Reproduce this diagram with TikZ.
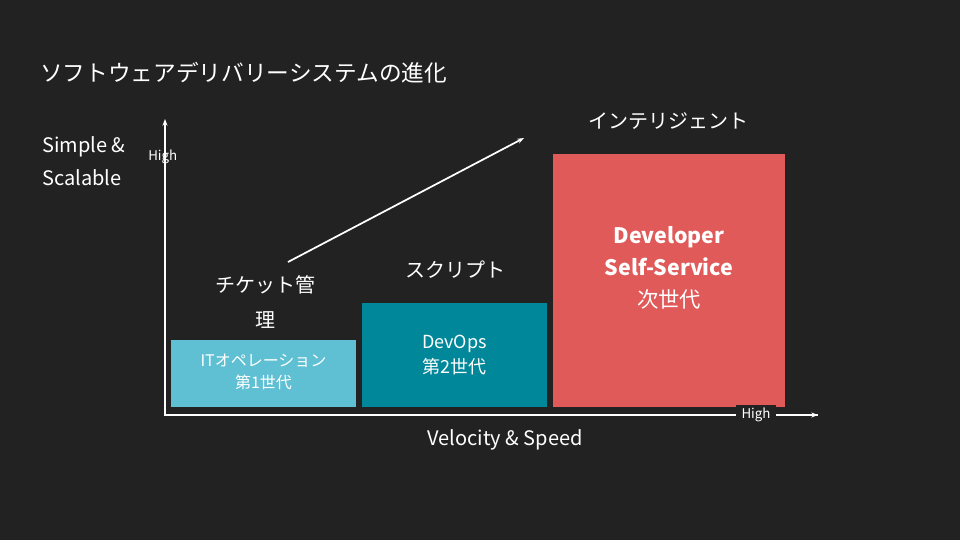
\documentclass[tikz,border=0pt]{standalone}
\usepackage{fontspec}
\setmainfont{Noto Sans CJK JP}
\usetikzlibrary{arrows.meta}
\definecolor{bg}{HTML}{222222}
\definecolor{c1}{HTML}{5FC0D3}
\definecolor{c2}{HTML}{00889A}
\definecolor{c3}{HTML}{E05A5A}
\tikzset{
  lbl/.style={text=white, inner sep=0pt, align=center},
  box/.style={draw=none, inner sep=0pt},
  ax/.style={draw=white, line width=0.9pt, -{Stealth[length=5pt]}},
}
\begin{document}
\begin{tikzpicture}[x=0.75pt,y=-0.75pt]
\fill[bg] (0,0) rectangle (960,540);
\useasboundingbox (0,0) rectangle (960,540);
\node[lbl, anchor=west, font=\fontsize{17}{20}\selectfont] (title) at (40,73) {ソフトウェアデリバリーシステムの進化};
% boxes
\fill[c1] (171,340) rectangle (356,407);
\fill[c2] (362,303) rectangle (547,407);
\fill[c3] (553,154) rectangle (785,407);
\node[lbl, font=\fontsize{12}{17}\selectfont] (b1) at (263.5,372) {ITオペレーション\\第1世代};
\node[lbl, font=\fontsize{13.5}{19}\selectfont] (b2) at (454.5,355) {DevOps\\第2世代};
\node[lbl, font=\fontsize{16}{24}\selectfont] (b3) at (669,268) {\textbf{Developer}\\\textbf{Self-Service}\\次世代};
% axes
\coordinate (o) at (165,410);
\coordinate (ytop) at (165,119);
\coordinate (xend) at (818,415);
\draw[ax] (o) -- (ytop);
\draw[white, line width=0.9pt] (o) -- (165,415) -- (xend);
\draw[ax] (785,415) -- (xend);
\node[lbl, fill=bg, inner xsep=4pt, inner ysep=2pt, font=\fontsize{10}{12}\selectfont] (xh) at (756,415) {High};
\node[lbl, anchor=west, font=\fontsize{10}{12}\selectfont] (yh) at (148,157) {High};
\node[lbl, anchor=west, align=left, font=\fontsize{15}{25}\selectfont] (yl) at (42,161) {Simple \&\\Scalable};
\node[lbl, font=\fontsize{15}{18}\selectfont] (xl) at (505,440) {Velocity \& Speed};
% stage labels
\node[lbl, font=\fontsize{15}{26}\selectfont] (s1) at (265,302) {チケット管\\理};
\node[lbl, font=\fontsize{15}{18}\selectfont] (s2) at (455,270) {スクリプト};
\node[lbl, font=\fontsize{15}{18}\selectfont] (s3) at (668,121) {インテリジェント};
\coordinate (a1) at (288,262);
\coordinate (a2) at (524,138);
\draw[ax, line width=1.3pt] (a1) -- (a2);
\end{tikzpicture}
\end{document}
